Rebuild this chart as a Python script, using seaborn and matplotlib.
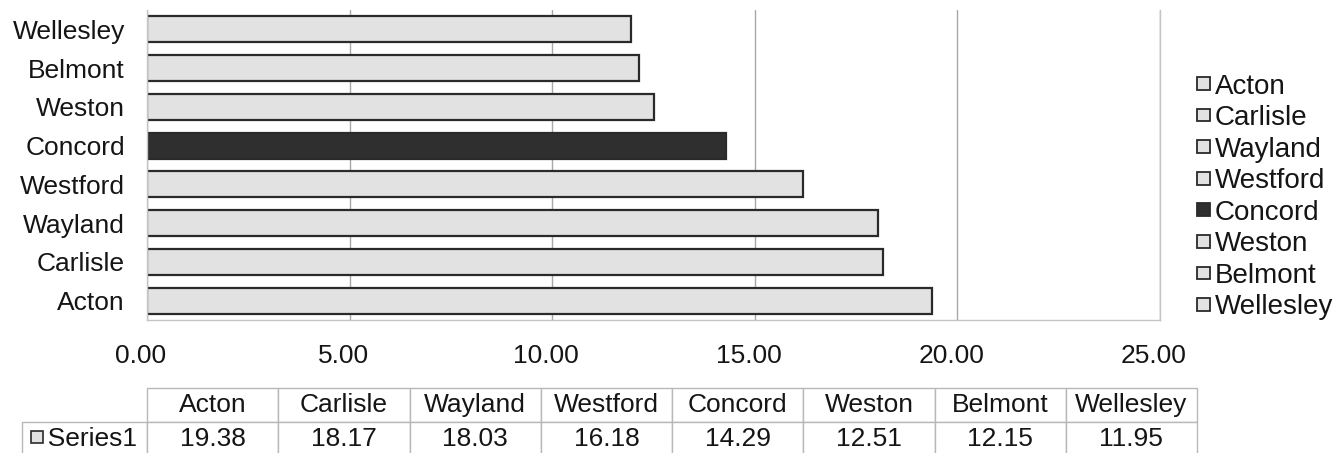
import matplotlib
matplotlib.use("Agg")
import matplotlib.pyplot as plt
from matplotlib.ticker import FixedLocator, FormatStrFormatter, NullFormatter
from matplotlib.patches import Rectangle
import matplotlib.transforms as mtrans
import seaborn as sns
import pandas as pd

towns = ["Acton", "Carlisle", "Wayland", "Westford", "Concord", "Weston", "Belmont", "Wellesley"]
values = [19.38, 18.17, 18.03, 16.18, 14.29, 12.51, 12.15, 11.95]
series_name = "Series1"
highlight = "Concord"

sns.set_style("white")
plt.rcParams["font.family"] = ["Liberation Sans", "DejaVu Sans"]

df = pd.DataFrame({"town": towns, "value": values})
light = "#e2e2e2"
dark = "#2f2f2f"
txt = "#151515"
pal = {t: (dark if t == highlight else light) for t in towns}

fig = plt.figure(figsize=(13.4, 4.53), dpi=100)
W, H = 1340, 453
ax = fig.add_axes([147 / W, 1 - 320 / H, (1160 - 147) / W, (320 - 10) / H])

sns.barplot(data=df, x="value", y="town", hue="town", order=towns[::-1], hue_order=towns,
            palette=pal, dodge=False, width=0.67, edgecolor="#2a2a2a", linewidth=1.6,
            ax=ax, legend=True)

ax.set_xlim(0, 25)
ax.set_ylim(7.5, -0.5)
ax.xaxis.set_major_locator(FixedLocator([0, 5, 10, 15, 20, 25]))
ax.xaxis.set_major_formatter(FormatStrFormatter("%.2f"))
ax.grid(axis="x", color="#a8a8a8", linewidth=1)
ax.set_axisbelow(True)
ax.set_xlabel("")
ax.set_ylabel("")

for side in ["left", "bottom", "right"]:
    ax.spines[side].set_color("#c4c4c4")
    ax.spines[side].set_linewidth(1)
ax.spines["top"].set_visible(False)

ax.tick_params(axis="x", length=0, pad=17, labelsize=19, labelcolor=txt)
ax.tick_params(axis="y", which="major", length=0, pad=16, labelsize=19, labelcolor=txt)
ax.yaxis.set_minor_locator(FixedLocator([i - 0.5 for i in range(len(towns) + 1)]))
ax.yaxis.set_minor_formatter(NullFormatter())
ax.tick_params(axis="y", which="minor", length=4, color="#b0b0b0", width=1)
# x labels sit a little left of their gridlines in the original
shift = mtrans.ScaledTranslation(-6 / 100, 0, fig.dpi_scale_trans)
for lab in ax.get_xticklabels():
    lab.set_transform(lab.get_transform() + shift)

# legend on the right
handles, labels = ax.get_legend_handles_labels()
for h in handles:
    h.set_edgecolor("#2a2a2a")
    h.set_linewidth(1.3)
ax.legend(handles, labels, loc="center left", bbox_to_anchor=(1197 / W, 1 - 197 / H),
          bbox_transform=fig.transFigure, frameon=False, fontsize=20,
          handlelength=0.45, handleheight=0.32, handletextpad=0.18,
          labelspacing=0.2, borderpad=0, borderaxespad=0, labelcolor=txt)

# data table below
ax_w = 1160 - 147
ax_h = 320 - 10
x0 = (22 - 147) / ax_w
x1 = (1197 - 147) / ax_w
y_top = -(388 - 320) / ax_h
y_bot = -(456 - 320) / ax_h
col_w = [125] + [131] * len(towns)
tbl = ax.table(cellText=[[series_name] + [f"{v:.2f}" for v in values]],
               colLabels=[""] + towns, colWidths=[c / sum(col_w) for c in col_w],
               cellLoc="center", colLoc="center",
               bbox=[x0, y_bot, x1 - x0, y_top - y_bot])
tbl.auto_set_font_size(False)
tbl.set_fontsize(19)
for (r, c), cell in tbl.get_celld().items():
    cell.set_edgecolor("#b8b8b8")
    cell.set_linewidth(1)
    cell.get_text().set_color(txt)
    if r == 0 and c == 0:
        cell.visible_edges = ""
    if r == 1 and c == 0:
        cell.get_text().set_text("  " + series_name)

# legend key in the Series1 cell
fig.patches.append(Rectangle((31 / W, 1 - 443 / H), 12 / W, 12 / H, transform=fig.transFigure,
                             facecolor=light, edgecolor="#2a2a2a", linewidth=1.2))

fig.savefig("out.png", dpi=100)
